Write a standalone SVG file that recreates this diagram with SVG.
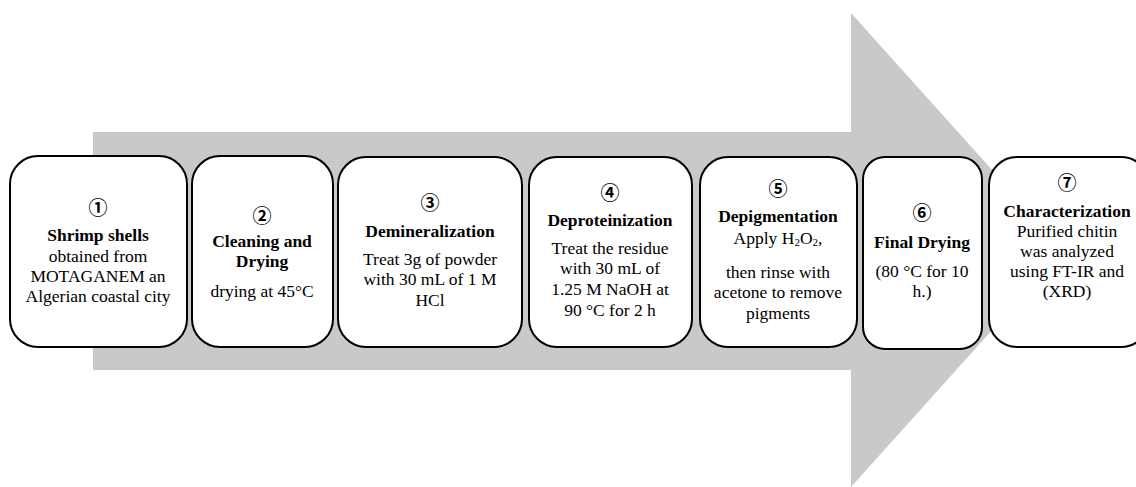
<svg xmlns="http://www.w3.org/2000/svg" width="1136" height="487" viewBox="0 0 1136 487">
<style>
.box{fill:#fff;stroke:#000;stroke-width:2}
text{font-family:"Liberation Serif","DejaVu Serif",serif;font-size:17.5px;fill:#000;text-anchor:middle}
.b{font-weight:bold}
.n{font-family:"Noto Sans CJK JP","DejaVu Sans",sans-serif;font-size:19px;font-weight:bold}
</style>
<rect width="1136" height="487" fill="#fff"/>
<g id="arrow">
<polygon points="93,132 851,132 851,13 1064,250 851,487 851,370 93,370" fill="#c9c9c9"/>
</g>
<g id="connectors"></g>
<g id="node1">
<rect class="box" x="10" y="156" width="177" height="191" rx="28"/>
<text class="n" x="98" y="215">①</text>
<text class="b" x="98" y="241">Shrimp shells</text>
<text x="98" y="262">obtained from</text>
<text x="98" y="282">MOTAGANEM  an</text>
<text x="98" y="302">Algerian coastal city</text>
</g>
<g id="node2">
<rect class="box" x="192" y="156" width="141" height="191" rx="28"/>
<text class="n" x="262" y="223">②</text>
<text class="b" x="262" y="247">Cleaning and</text>
<text class="b" x="262" y="267">Drying</text>
<text x="262" y="297">drying at 45°C</text>
</g>
<g id="node3">
<rect class="box" x="338" y="157" width="184" height="190" rx="28"/>
<text class="n" x="430" y="210">③</text>
<text class="b" x="430" y="237">Demineralization</text>
<text x="430" y="265">Treat 3g of powder</text>
<text x="430" y="285">with 30 mL of 1 M</text>
<text x="430" y="306">HCl</text>
</g>
<g id="node4">
<rect class="box" x="529" y="157" width="163" height="190" rx="28"/>
<text class="n" x="610" y="200">④</text>
<text class="b" x="610" y="226">Deproteinization</text>
<text x="610" y="254">Treat the residue</text>
<text x="610" y="274">with 30 mL of</text>
<text x="610" y="295">1.25 M NaOH at</text>
<text x="610" y="316">90 °C for 2 h</text>
</g>
<g id="node5">
<rect class="box" x="700" y="157" width="157" height="190" rx="28"/>
<text class="n" x="778" y="196">⑤</text>
<text class="b" x="778" y="222">Depigmentation</text>
<text x="778" y="244">Apply H<tspan font-size="11" dy="2">2</tspan><tspan dy="-2">O</tspan><tspan font-size="11" dy="2">2</tspan><tspan dy="-2">,</tspan></text>
<text x="778" y="278">then rinse with</text>
<text x="778" y="298">acetone to remove</text>
<text x="778" y="319">pigments</text>
</g>
<g id="node6">
<rect class="box" x="863" y="157" width="119" height="192" rx="22"/>
<text class="n" x="922" y="220">⑥</text>
<text class="b" x="922" y="248">Final Drying</text>
<text x="922" y="277">(80 °C for 10</text>
<text x="922" y="297">h.)</text>
</g>
<g id="node7">
<rect class="box" x="989" y="157" width="160" height="190" rx="28"/>
<text class="n" x="1067" y="190">⑦</text>
<text class="b" x="1067" y="217">Characterization</text>
<text x="1067" y="237">Purified chitin</text>
<text x="1067" y="257">was analyzed</text>
<text x="1067" y="277">using FT-IR and</text>
<text x="1067" y="297">(XRD)</text>
</g>
</svg>
